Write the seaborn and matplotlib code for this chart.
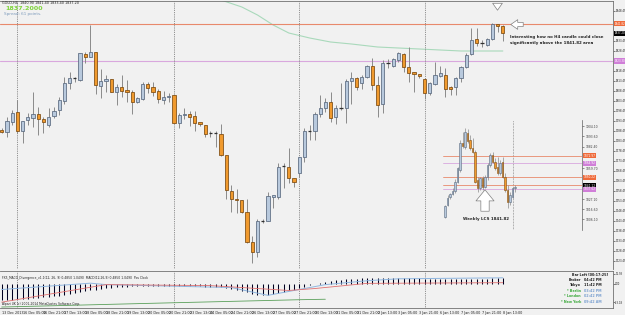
import numpy as np
import matplotlib
import matplotlib.pyplot as plt
import matplotlib.transforms as mtrans
import seaborn as sns

matplotlib.use("Agg")
sns.set_style("white")
plt.rcParams['font.family'] = ['DejaVu Sans']

# ---- main H4 chart (prices) ----
opens = [1788.8, 1787.8, 1792.8, 1797.8, 1788.3, 1793.8, 1794.8, 1796.8, 1794.3, 1791.3,
         1795.8, 1798.8, 1803.3, 1812.3, 1814.8, 1813.8, 1826.8, 1825.3, 1827.8, 1810.8,
         1813.3, 1814.3, 1807.8, 1810.3, 1808.8, 1807.8, 1802.8, 1804.3, 1811.8, 1810.3,
         1808.3, 1803.8, 1805.3, 1806.3, 1792.3, 1796.3, 1796.8, 1795.8, 1792.8, 1791.3,
         1787.3, 1787.3, 1786.8, 1776.3, 1758.3, 1754.3, 1753.8, 1747.8, 1732.8, 1727.8,
         1743.3, 1743.3, 1755.3, 1755.3, 1770.8, 1770.3, 1764.8, 1767.3, 1775.3, 1788.3,
         1788.3, 1796.8, 1799.8, 1802.8, 1795.3, 1799.8, 1799.8, 1813.3, 1814.8, 1812.3,
         1815.3, 1820.8, 1811.3, 1801.8, 1822.3, 1820.8, 1823.8, 1826.8, 1820.3, 1817.8,
         1816.8, 1814.3, 1807.3, 1811.8, 1815.8, 1816.3, 1810.3, 1810.3, 1814.8, 1820.3,
         1826.8, 1834.3, 1832.3, 1831.3, 1834.3, 1841.8, 1840.9]
highs = [1789.8, 1795.3, 1798.8, 1803.8, 1793.3, 1797.3, 1807.8, 1800.3, 1795.3, 1799.8,
         1800.3, 1805.3, 1815.3, 1817.8, 1815.3, 1827.3, 1827.8, 1841.3, 1827.8, 1819.3,
         1816.3, 1814.3, 1811.8, 1816.3, 1813.8, 1808.8, 1805.3, 1812.8, 1812.8, 1812.8,
         1809.3, 1808.3, 1807.3, 1806.3, 1797.3, 1799.8, 1798.3, 1798.3, 1792.8, 1791.3,
         1788.3, 1788.3, 1791.8, 1776.3, 1761.3, 1759.3, 1753.8, 1754.3, 1735.8, 1744.3,
         1744.3, 1757.8, 1756.3, 1772.3, 1772.3, 1779.8, 1764.8, 1775.3, 1789.8, 1791.3,
         1797.8, 1806.3, 1804.8, 1807.8, 1801.3, 1812.3, 1814.3, 1817.8, 1815.3, 1816.3,
         1821.3, 1824.8, 1815.8, 1823.8, 1824.3, 1824.8, 1827.8, 1827.3, 1830.3, 1817.8,
         1816.8, 1814.3, 1812.8, 1822.8, 1820.8, 1819.8, 1810.8, 1815.3, 1820.8, 1827.3,
         1839.8, 1839.8, 1833.8, 1834.8, 1842.3, 1841.8, 1841.4]
lows = [1787.3, 1785.3, 1791.3, 1787.3, 1782.3, 1791.3, 1790.3, 1786.3, 1787.3, 1790.3,
        1794.8, 1796.3, 1801.8, 1809.3, 1812.8, 1813.3, 1822.3, 1825.3, 1806.8, 1804.8,
        1807.8, 1807.8, 1801.3, 1805.3, 1802.8, 1796.8, 1802.3, 1803.8, 1807.3, 1805.8,
        1802.3, 1801.8, 1802.8, 1792.3, 1789.8, 1794.3, 1790.8, 1788.3, 1790.8, 1785.3,
        1785.3, 1780.3, 1775.8, 1754.3, 1747.8, 1747.3, 1747.3, 1732.3, 1722.3, 1725.3,
        1742.3, 1743.3, 1749.8, 1754.3, 1759.8, 1762.3, 1760.3, 1765.3, 1772.8, 1783.8,
        1783.8, 1795.3, 1797.8, 1792.8, 1791.8, 1798.8, 1792.3, 1801.8, 1808.8, 1809.3,
        1814.8, 1808.8, 1795.3, 1797.3, 1819.8, 1820.3, 1822.8, 1817.8, 1812.8, 1807.8,
        1814.8, 1804.3, 1806.3, 1811.3, 1815.3, 1805.3, 1806.3, 1806.3, 1812.8, 1819.8,
        1826.3, 1830.8, 1830.3, 1830.8, 1833.8, 1837.8, 1833.4]
closes = [1787.8, 1793.3, 1797.3, 1788.3, 1793.3, 1795.3, 1796.8, 1794.3, 1792.8, 1795.3,
          1798.3, 1803.8, 1812.3, 1814.8, 1814.8, 1827.3, 1825.3, 1827.8, 1811.3, 1813.3,
          1814.3, 1807.8, 1810.3, 1808.3, 1807.8, 1802.8, 1804.8, 1811.8, 1809.8, 1807.8,
          1804.3, 1805.3, 1805.8, 1792.3, 1796.3, 1796.8, 1795.3, 1792.3, 1791.8, 1786.8,
          1787.3, 1787.3, 1776.3, 1758.8, 1754.3, 1753.8, 1747.8, 1732.8, 1727.8, 1743.3,
          1743.3, 1755.8, 1756.3, 1770.3, 1770.8, 1764.8, 1762.8, 1775.3, 1788.3, 1788.3,
          1796.8, 1799.8, 1802.8, 1794.8, 1799.8, 1799.8, 1813.3, 1814.8, 1810.3, 1815.3,
          1820.8, 1811.3, 1801.3, 1822.3, 1822.3, 1824.3, 1827.3, 1820.3, 1817.3, 1816.8,
          1815.8, 1807.3, 1812.3, 1816.3, 1817.3, 1809.3, 1809.3, 1814.8, 1820.3, 1826.3,
          1833.8, 1832.3, 1832.3, 1834.3, 1841.8, 1840.8, 1837.2]

ma_bars = [40, 42, 46, 49, 52, 55, 59, 63, 67, 72, 80, 88, 96]
ma_vals = [1855.3, 1853.8, 1850.3, 1846.3, 1841.3, 1837.3, 1834.8, 1832.8, 1831.8, 1830.3,
           1829.3, 1828.3, 1828.3]

lcs_level = 1841.82
pink_level = 1823.30
week_starts = [3, 33, 57, 81]

price_ticks = [1848.45, 1833.45, 1828.45, 1818.45, 1813.45, 1808.45, 1803.45, 1798.45,
               1793.45, 1788.45, 1783.45, 1778.45, 1773.45, 1768.45, 1763.45, 1758.45,
               1753.45, 1748.45, 1743.45, 1738.45, 1733.45, 1728.45, 1723.45]

date_bars = list(range(0, 97, 4))
date_labels = ["13 Dec 2013", "16 Dec 05:00", "16 Dec 21:00", "17 Dec 13:00", "18 Dec 05:00",
               "18 Dec 21:00", "19 Dec 13:00", "20 Dec 05:00", "20 Dec 21:00", "23 Dec 13:00",
               "24 Dec 05:00", "24 Dec 21:00", "26 Dec 13:00", "27 Dec 05:00", "27 Dec 21:00",
               "30 Dec 13:00", "31 Dec 05:00", "31 Dec 21:00", "2 Jan 13:00", "3 Jan 05:00",
               "3 Jan 21:00", "6 Jan 13:00", "7 Jan 05:00", "7 Jan 21:00", "8 Jan 13:00"]

# ---- MACD sub window ----
macd_hist = [-17, -17, -17, -16, -16, -16, -15, -15, -14, -14,
             -13, -13, -12, -11, -10, -9, -8, -7, -6, -5,
             -4, -4, -3, -3, -3, -2, -2, -2, -2, -2,
             -2, -2, -2, -2, -2, -2, -2, -2, -2, -3,
             -3, -3, -3, -4, -5, -6, -8, -9, -11, -12,
             -12, -12, -11, -10, -9, -7, -6, -4, -3, -1,
             0, 1, 2, 3, 4, 4, 5, 5, 5, 6,
             6, 6, 6, 6, 6, 6, 6, 6, 6, 6,
             6, 5, 5, 5, 5, 5, 5, 5, 5, 5,
             5, 5, 5, 5, 6, 6, 6]
sig_bars = [0, 17, 20, 44, 51, 57, 62, 70, 76, 96]
sig_vals = [-6, 0.5, -1, -4, -12, -6, -1, 3, 5, 6]
red_bars = [0, 20, 40, 55, 60, 70, 96]
red_vals = [-19, -1, -2, -7, -5, 0.3, 1]
green_bars = [0, 30, 57, 62]
green_vals = [-24, -20, -16.5, -16]
macd_ticks = [10, 0, -19]
macd_labels = ["12.93", "0.00", "-23.18"]

# ---- inset (pasted weekly view) ----
in_open = [1808.9, 1821.2, 1829.2, 1832.7, 1835.5, 1845.7, 1857.9, 1886.6, 1882.4, 1896.4,
           1889.4, 1880.7, 1877.2, 1847.4, 1838.7, 1849.2, 1840.4, 1850.2, 1863.2, 1873.7,
           1866.7, 1861.4, 1854.4, 1866.7, 1850.9, 1836.9, 1824.7, 1829.9, 1838.7]
in_high = [1821.2, 1831.7, 1834.1, 1838.7, 1848.1, 1861.4, 1889.4, 1898.2, 1901.7, 1900.6,
           1894.7, 1891.2, 1878.9, 1850.9, 1850.9, 1851.6, 1852.7, 1864.9, 1875.4, 1877.2,
           1870.2, 1871.9, 1868.4, 1871.9, 1854.4, 1842.2, 1835.2, 1840.4, 1842.2]
in_low = [1807.2, 1820.1, 1827.8, 1831.3, 1834.1, 1843.9, 1856.2, 1880.7, 1879.6, 1885.9,
          1878.9, 1875.4, 1843.9, 1835.2, 1836.9, 1836.9, 1838.7, 1847.4, 1861.4, 1864.9,
          1857.9, 1852.7, 1852.7, 1849.2, 1835.2, 1817.7, 1821.2, 1828.2, 1835.2]
in_close = [1820.1, 1828.9, 1832.7, 1836.2, 1845.7, 1859.7, 1886.6, 1883.1, 1898.2, 1888.7,
            1880.7, 1877.2, 1845.7, 1838.7, 1849.2, 1840.4, 1850.9, 1863.2, 1873.7, 1866.7,
            1859.7, 1854.4, 1864.9, 1850.9, 1837.2, 1824.7, 1831.7, 1838.7, 1840.4]
in_orange = [1872.97, 1850.22, 1841.82]
in_pink = [1864.92, 1837.62]
in_ticks = [1904.10, 1893.60, 1882.40, 1859.70, 1827.10, 1816.60, 1806.10]

bg = "#f1f1f1"
bull_fill, bull_edge = "#b8c9dd", "#5b6b80"
bear_fill, bear_edge = "#f09a2e", "#7d4c12"
wick_col = "#8a8a8a"
orange_line, pink_line = "#e8896c", "#d9a8de"
sep_col = "#6e6e6e"


def draw_candles(a, o, h, l, c, width, lw):
    o, h, l, c = map(np.asarray, (o, h, l, c))
    x = np.arange(len(o))
    up, dn, eq = c > o, c < o, c == o
    a.vlines(x, l, h, color=wick_col, lw=lw, zorder=2)
    a.bar(x[up], (c - o)[up], bottom=o[up], width=width, color=bull_fill,
          edgecolor=bull_edge, linewidth=lw * 0.8, zorder=3)
    a.bar(x[dn], (o - c)[dn], bottom=c[dn], width=width, color=bear_fill,
          edgecolor=bear_edge, linewidth=lw * 0.8, zorder=3)
    a.hlines(o[eq], x[eq] - width / 2, x[eq] + width / 2, color="#303030", lw=lw + 0.2, zorder=3)


fig = plt.figure(figsize=(6.25, 3.15), dpi=100, facecolor=bg)
ax = fig.add_axes([0, 1 - 269 / 315, 613 / 625, 268 / 315], facecolor=bg)
sub = fig.add_axes([0, 1 - 308 / 315, 613 / 625, 37 / 315], facecolor=bg)
xlim = (-1.7 / 5.22, (613 - 1.7) / 5.22)

# main chart
draw_candles(ax, opens, highs, lows, closes, 0.62, 0.7)
sns.lineplot(x=ma_bars, y=ma_vals, ax=ax, color="#a9d9bb", lw=0.8, zorder=1)
ax.axhline(lcs_level, color=orange_line, lw=0.8, zorder=1)
ax.axhline(pink_level, color=pink_line, lw=0.8, zorder=1)
for a in (ax, sub):
    for b in week_starts:
        a.axvline(b, color=sep_col, lw=0.6, ls=(0, (1, 1.2)), zorder=1)
ax.set_xlim(*xlim)
ax.set_ylim(1719.3, 1853.3)
ax.set_xticks([])
ax.yaxis.tick_right()
ax.set_yticks(price_ticks)
ax.set_yticklabels([f"{v:.2f}" for v in price_ticks], fontsize=1.9)
ax.tick_params(axis="y", length=1.2, width=0.4, pad=0.6, colors="#202020")
for s in ("left", "bottom"):
    ax.spines[s].set_visible(False)
for s in ("top", "right"):
    ax.spines[s].set_color("#707070")
    ax.spines[s].set_linewidth(0.6)

ytr = mtrans.blended_transform_factory(ax.transAxes, ax.transData)
for val, fc in [(lcs_level, "#ef6a3a"), (1837.20, "#000000"), (pink_level, "#d07ed8")]:
    ax.text(1.003, val, f"{val:.2f}", transform=ytr, fontsize=1.9, color="white",
            va="center", ha="left", zorder=5,
            bbox=dict(boxstyle="square,pad=0.2", fc=fc, ec="none"))

# top-left info
fig.text(2 / 625, 1 - 3.5 / 315, "GOLD,H4  1840.90 1841.40 1833.40 1837.20", fontsize=2.4,
         color="#202020", va="center")
fig.text(5 / 625, 1 - 8.5 / 315, "1837.2000", fontsize=4.6, color="#7fd43c",
         fontweight="bold", va="center")
fig.text(4 / 625, 1 - 14 / 315, "Spread: 61 points.", fontsize=3, color="#7f9cbd", va="center")

# annotations
ax.text(510 / 613, 1 - 34 / 268, "Interesting how no H4 candle could close\n"
        "significantly above the 1841.82 area", transform=ax.transAxes, fontsize=2.9,
        fontweight="bold", va="top", ha="left", linespacing=1.6)
ax.annotate("", xy=(508 / 613, 1 - 23.5 / 268), xytext=(526 / 613, 1 - 23.5 / 268),
            xycoords="axes fraction", textcoords="axes fraction",
            arrowprops=dict(arrowstyle="simple,head_length=0.5,head_width=0.7,tail_width=0.3",
                            fc="white", ec="#808080", lw=0.5))
ax.annotate("", xy=(497.5 / 613, 1 - 12 / 268), xytext=(497.5 / 613, 1 - 3 / 268),
            xycoords="axes fraction", textcoords="axes fraction",
            arrowprops=dict(arrowstyle="simple,head_length=0.5,head_width=0.7,tail_width=0.35",
                            fc="white", ec="#808080", lw=0.5))

# inset
ins = fig.add_axes([440 / 625, 1 - 230 / 315, 142 / 625, 110 / 315])
ins.patch.set_alpha(0)
draw_candles(ins, in_open, in_high, in_low, in_close, 0.6, 0.5)
for v in in_orange:
    ins.axhline(v, xmin=0.02, color=orange_line, lw=0.6, zorder=1)
for v in in_pink:
    ins.axhline(v, xmin=0.02, color=pink_line, lw=0.6, zorder=1)
ins.axvline(27.2, color=sep_col, lw=0.5, ls=(0, (1, 1.2)), zorder=0)
ins.set_xlim(-2, 54.8)
ins.set_ylim(1794.92, 1910.42)
ins.set_xticks([])
ins.yaxis.tick_right()
ins.set_yticks(in_ticks)
ins.set_yticklabels([f"{v:.2f}" for v in in_ticks], fontsize=2.2)
ins.tick_params(axis="y", length=1.2, width=0.4, pad=1.5, colors="#404040")
for s in ("left", "bottom", "top"):
    ins.spines[s].set_visible(False)
ins.spines["right"].set_color("#606060")
ins.spines["right"].set_linewidth(0.5)
itr = mtrans.blended_transform_factory(ins.transAxes, ins.transData)
for val, fc in [(1872.97, "#ef6a3a"), (1864.92, "#d07ed8"), (1850.22, "#ef6a3a"),
                (1841.12, "#000000"), (1837.62, "#d07ed8")]:
    ins.text(1.01, val, f"{val:.2f}", transform=itr, fontsize=2.1, color="white",
             va="center", ha="left", zorder=5, bbox=dict(boxstyle="square,pad=0.2", fc=fc, ec="none"))
ins.annotate("", xy=(0.317, 1 - 67 / 110), xytext=(0.317, 1 - 94 / 110),
             xycoords="axes fraction", textcoords="axes fraction",
             arrowprops=dict(arrowstyle="simple,head_length=0.8,head_width=1.3,tail_width=0.6",
                             fc="white", ec="#808080", lw=0.5))
ins.text(0.16, 1 - 99 / 110, "Weekly LCS 1841.82", transform=ins.transAxes, fontsize=2.9,
         fontweight="bold", va="center", ha="left")

# MACD sub window
xb = np.arange(len(macd_hist))
sub.vlines(xb, 0, macd_hist, color="#000020", lw=0.75, zorder=2)
sns.lineplot(x=sig_bars, y=sig_vals, ax=sub, color="#8fb6e0", lw=0.7, zorder=3)
sns.lineplot(x=red_bars, y=red_vals, ax=sub, color="#e07070", lw=0.6, zorder=3)
sns.lineplot(x=green_bars, y=green_vals, ax=sub, color="#5aa05a", lw=0.6, zorder=3)
sub.set_xlim(*xlim)
sub.set_ylim(-25, 13)
sub.yaxis.tick_right()
sub.set_yticks(macd_ticks)
sub.set_yticklabels(macd_labels, fontsize=1.8)
sub.tick_params(axis="y", length=1.2, width=0.4, pad=0.5, colors="#202020")
sub.set_xticks(date_bars)
sub.set_xticklabels(date_labels, fontsize=2.4, ha="left")
sub.tick_params(axis="x", length=1.5, width=0.4, pad=0.8, colors="#202020")
sub.spines["left"].set_visible(False)
for s in ("top", "right", "bottom"):
    sub.spines[s].set_color("#707070")
    sub.spines[s].set_linewidth(0.6)
sub.text(0.003, 0.82, "FX5_MACD_Divergence_v1.1(12, 26, 9) 0.4850 1.0490  MACD(12,26,9) 0.4850 1.0490  Pos Clock",
         transform=sub.transAxes, fontsize=2.2, color="#202020", va="center")
sub.text(0.003, 0.1, "Alpari UK (c) 2001-2014 MetaQuotes Software Corp.", transform=sub.transAxes,
         fontsize=2.2, color="#202020", va="center")

clock_rows = [("Broker", "04:42 PM", "#202020", "#202020"),
              ("Tokyo", "11:42 PM", "#202020", "#202020"),
              ("* Berlin", "03:42 PM", "#3aa83a", "#7aa0d0"),
              ("* London", "02:42 PM", "#3aa83a", "#7aa0d0"),
              ("* New York", "09:42 AM", "#3aa83a", "#7aa0d0")]
sub.text(0.992, 0.9, "Bar Left [00:17:25]", transform=sub.transAxes, fontsize=2.4,
         fontweight="bold", ha="right", va="center", color="#202020")
for k, (name, tm, c1, c2) in enumerate(clock_rows):
    yy = 0.9 - (k + 1) * 0.145
    sub.text(0.948, yy, name, transform=sub.transAxes, fontsize=2.4, fontweight="bold",
             ha="right", va="center", color=c1)
    sub.text(0.953, yy, tm, transform=sub.transAxes, fontsize=2.4, fontweight="bold",
             ha="left", va="center", color=c2)

fig.savefig("out.png", dpi=100, facecolor=bg)
